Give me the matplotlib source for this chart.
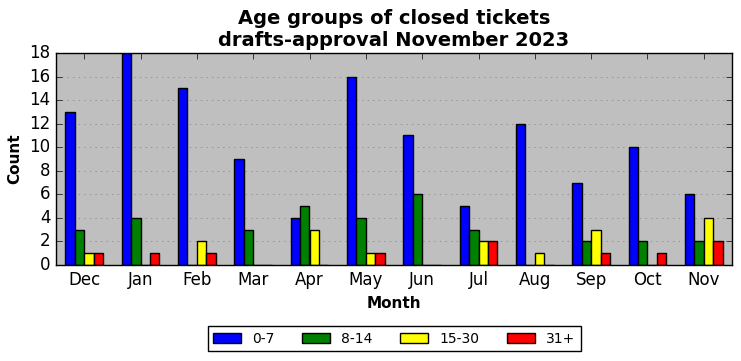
import numpy as np
from matplotlib import pyplot as plt

months = ['Dec', 'Jan', 'Feb', 'Mar', 'Apr', 'May', 'Jun', 'Jul', 'Aug', 'Sep', 'Oct', 'Nov']
age_labels = ['0-7', '8-14', '15-30', '31+']
age_0_7 = [13, 18, 15, 9, 4, 16, 11, 5, 12, 7, 10, 6]
age_8_14 = [3, 4, 0, 3, 5, 4, 6, 3, 0, 2, 2, 2]
age_15_30 = [1, 0, 2, 0, 3, 1, 0, 2, 1, 3, 0, 4]
age_31_plus = [1, 1, 1, 0, 0, 1, 0, 2, 0, 1, 1, 2]
colors = ['blue', 'green', 'yellow', 'red']

plt.style.use('classic')
fig = plt.figure(figsize=(7.41, 3.61), dpi=100, facecolor='white')
ax = fig.add_axes([56 / 741, 1 - 265 / 361, 676 / 741, 212 / 361])
ax.set_facecolor('#bfbfbf')

x = np.arange(len(months))
width = 1 / 6
series = [age_0_7, age_8_14, age_15_30, age_31_plus]
for j, (vals, lab, col) in enumerate(zip(series, age_labels, colors)):
    ax.bar(x + (j - 2) * width, vals, width, align='edge', color=col,
           edgecolor='black', linewidth=1, label=lab)

ax.set_xlim(-0.5, len(months) - 0.5)
ax.set_ylim(0, 18)
ax.set_yticks(range(0, 19, 2))
ax.set_xticks(x)
ax.set_xticklabels(months)
ax.tick_params(labelsize=12)
ax.yaxis.grid(True, linestyle=':', color='gray')
ax.set_axisbelow(True)

ax.set_xlabel('Month', fontweight='bold', fontsize=11)
ax.set_ylabel('Count', fontweight='bold', fontsize=11)
ax.set_title('Age groups of closed tickets\ndrafts-approval November 2023',
             fontweight='bold', fontsize=14)

ax.legend(loc='upper center', bbox_to_anchor=(0.5, -0.255), ncol=4,
          fontsize=10, frameon=True, fancybox=False, handlelength=2,
          columnspacing=2.0)

fig.savefig('out.png', dpi=100, facecolor='white')
